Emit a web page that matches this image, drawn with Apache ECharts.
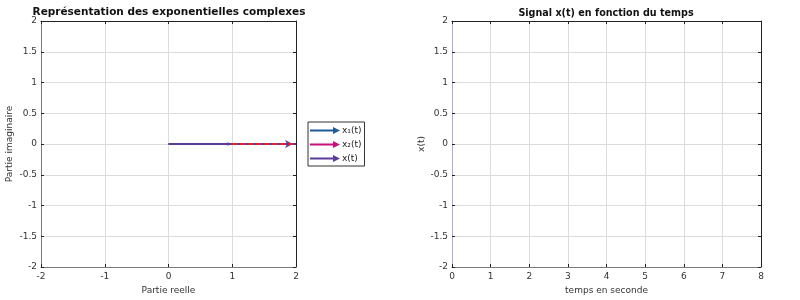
<!DOCTYPE html>
<html>
<head>
<meta charset="utf-8">
<script src="https://cdn.jsdelivr.net/npm/echarts@6/dist/echarts.min.js"></script>
<style>html,body{margin:0;padding:0;background:#fff}#c{width:800px;height:300px}</style>
</head>
<body>
<div id="c"></div>
<script>
// Left plot: complex exponentials (phasors) at t = 0
var x1Re = [0, 1];
var x1Im = [0, 0];
var x2Re = [1, 2];
var x2Im = [0, 0];
var xRe = [0, 2];
var xIm = [0, 0];
var legendNames = ['x₁(t)', 'x₂(t)', 'x(t)'];
var colors = ['#1f5a99', '#c8107d', '#5b3c98'];
var titles = ['Représentation des exponentielles complexes', 'Signal x(t) en fonction du temps'];
// Right plot: time signal (empty), axes
var tTicks = [0, 1, 2, 3, 4, 5, 6, 7, 8];
var yTicks = [-2, -1.5, -1, -0.5, 0, 0.5, 1, 1.5, 2];

var FONT = 'DejaVu Sans';
function pts(re, im, arrowSize, headColor) {
  var d = re.map(function (r, i) { return { value: [r, im[i]], symbol: 'none' }; });
  if (arrowSize) {
    var last = d[d.length - 1];
    last.symbol = 'arrow';
    last.symbolSize = arrowSize;
    last.symbolRotate = -90;
    last.symbolOffset = [-arrowSize[1] / 2 + 1, 0];
    last.itemStyle = { color: headColor };
  }
  return d;
}
var arrowPath = 'path://M0,3 L23,3 L23,0.5 L30,4 L23,7.5 L23,5 L0,5 Z';

function xAx(idx, min, max, name, pos) {
  var bottom = pos === 'bottom';
  return {
    type: 'value', gridIndex: idx, min: min, max: max, interval: 1, position: pos,
    name: bottom ? name : '', nameLocation: 'middle', nameGap: 17,
    nameTextStyle: { fontFamily: FONT, fontSize: 9, color: '#333' },
    axisLine: { show: true, onZero: false, lineStyle: { color: bottom ? '#7a7a7a' : '#222', width: 1 } },
    axisTick: { show: true, inside: true, length: 3, lineStyle: { color: '#222' } },
    axisLabel: { show: bottom, fontFamily: FONT, fontSize: 9, color: '#333', margin: 5 },
    splitLine: { show: bottom, lineStyle: { color: '#dcdce0', width: 1 } }
  };
}
function yAx(idx, name, pos, lineColor) {
  var left = pos === 'left';
  return {
    type: 'value', gridIndex: idx, min: -2, max: 2, interval: 0.5, position: pos,
    name: left ? name : '', nameLocation: 'middle', nameGap: idx === 0 ? 27 : 26,
    nameTextStyle: { fontFamily: FONT, fontSize: 9, color: '#333' },
    axisLine: { show: true, onZero: false, lineStyle: { color: left ? lineColor : '#222', width: 1 } },
    axisTick: { show: true, inside: true, length: 3, lineStyle: { color: '#222' } },
    axisLabel: { show: left, fontFamily: FONT, fontSize: 9, color: '#333', margin: 4 },
    splitLine: { show: left, lineStyle: { color: '#dcdce0', width: 1 } }
  };
}

var chart = echarts.init(document.getElementById('c'), null, { renderer: 'canvas' });
chart.setOption({
  animation: false,
  backgroundColor: '#fff',
  graphic: [
    { type: 'text', x: 169, y: 7, style: { text: titles[0], align: 'center', verticalAlign: 'top',
      font: 'bold 10.5px "DejaVu Sans"', fill: '#111' } },
    { type: 'text', x: 606, y: 8, style: { text: titles[1], align: 'center', verticalAlign: 'top',
      font: 'bold 9.6px "DejaVu Sans"', fill: '#111' } }
  ],
  grid: [
    { left: 41, top: 21, width: 255, height: 246 },
    { left: 452, top: 21, width: 309, height: 246 }
  ],
  xAxis: [
    xAx(0, -2, 2, 'Partie reelle', 'bottom'),
    xAx(0, -2, 2, '', 'top'),
    xAx(1, 0, 8, 'temps en seconde', 'bottom'),
    xAx(1, 0, 8, '', 'top')
  ],
  yAxis: [
    yAx(0, 'Partie imaginaire', 'left', '#7a7a7a'),
    yAx(0, '', 'right'),
    yAx(1, 'x(t)', 'left', '#a8acd8'),
    yAx(1, '', 'right')
  ],
  legend: {
    left: 308, top: 122, orient: 'vertical',
    data: legendNames.map(function (n) { return { name: n, icon: arrowPath }; }),
    itemWidth: 30, itemHeight: 8, itemGap: 5,
    padding: [4, 3, 3, 2],
    borderColor: '#333', borderWidth: 1, backgroundColor: '#fff', borderRadius: 0,
    textStyle: { fontFamily: FONT, fontSize: 9, color: '#222', padding: [0, 0, 0, -3] }
  },
  series: [
    { name: legendNames[0], type: 'line', xAxisIndex: 0, yAxisIndex: 0, data: pts(x1Re, x1Im, [3, 4], colors[2]),
      lineStyle: { color: colors[0], width: 2 }, itemStyle: { color: colors[0] }, color: colors[0], z: 2 },
    { name: legendNames[2], type: 'line', xAxisIndex: 0, yAxisIndex: 0, data: pts(xRe, xIm, [6, 8], colors[2]),
      lineStyle: { color: colors[2], width: 2 }, itemStyle: { color: colors[2] }, color: colors[2], z: 3 },
    { name: legendNames[1], type: 'line', xAxisIndex: 0, yAxisIndex: 0, data: pts(x2Re, x2Im, null),
      lineStyle: { color: '#f01e28', width: 2, type: [5, 3] }, itemStyle: { color: colors[1] }, color: colors[1], z: 4 }
  ]
});
</script>
</body>
</html>
